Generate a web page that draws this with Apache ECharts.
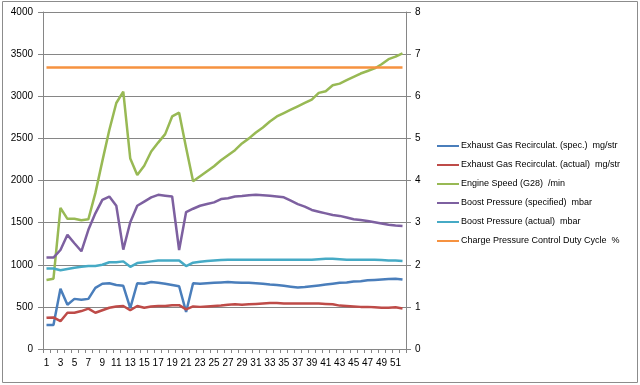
<!DOCTYPE html>
<html><head><meta charset="utf-8">
<script src="https://cdn.jsdelivr.net/npm/echarts@6/dist/echarts.min.js"></script>
<style>html,body{margin:0;padding:0;background:#fff}#c{width:640px;height:385px}</style>
</head><body><div id="c"></div>
<script>
var categories = [];
for (var i = 1; i <= 52; i++) categories.push(String(i));
var seriesNames = ["Exhaust Gas Recirculat. (spec.)  mg/str","Exhaust Gas Recirculat. (actual)  mg/str","Engine Speed (G28)  /min","Boost Pressure (specified)  mbar","Boost Pressure (actual)  mbar","Charge Pressure Control Duty Cycle  %"];
var egrSpec = [285,285,715,525,595,585,595,725,775,780,760,750,485,780,775,795,785,775,760,745,440,780,775,780,785,790,795,790,785,785,780,775,765,760,750,740,730,735,745,755,765,775,785,790,800,805,815,820,825,830,835,825];
var egrActual = [370,375,330,430,430,450,480,430,460,490,505,510,460,510,490,505,510,510,520,520,470,505,500,505,510,515,525,530,525,530,535,540,545,545,540,540,540,540,540,540,535,530,515,510,505,500,500,495,490,490,495,480];
var engineSpeed = [820,835,1675,1545,1545,1528,1540,1850,2230,2600,2920,3055,2260,2065,2175,2345,2450,2550,2760,2805,2390,1990,2050,2110,2170,2240,2300,2360,2440,2500,2570,2630,2700,2760,2800,2840,2880,2920,2960,3040,3060,3130,3150,3190,3230,3270,3300,3330,3380,3440,3470,3510];
var boostSpec = [1085,1085,1175,1355,1255,1160,1415,1610,1770,1810,1700,1180,1505,1700,1750,1800,1830,1820,1810,1175,1625,1665,1700,1720,1740,1780,1790,1810,1815,1825,1830,1825,1820,1810,1800,1760,1720,1690,1650,1630,1610,1590,1580,1560,1540,1530,1520,1505,1490,1475,1465,1460];
var boostActual = [955,955,935,950,965,975,985,985,1000,1030,1030,1040,975,1020,1030,1040,1050,1050,1050,1050,985,1025,1035,1045,1050,1055,1060,1060,1060,1060,1060,1060,1060,1060,1060,1060,1060,1060,1060,1065,1070,1070,1065,1060,1060,1060,1060,1060,1055,1050,1050,1045];
var dutyCycle = [];
for (var j = 0; j < 52; j++) dutyCycle.push(6.68);
var colors = ["#4A7EBB","#BE4B48","#98B954","#7D60A0","#46AAC5","#F69240"];

var font = "Liberation Sans";
var chart = echarts.init(document.getElementById('c'), null, {renderer:'canvas'});
var dataList = [egrSpec, egrActual, engineSpeed, boostSpec, boostActual, dutyCycle];
var series = dataList.map(function(d, k){
  return {name: seriesNames[k], type:'line', data:d, yAxisIndex: k===5?1:0,
    symbol:'none', smooth:false, lineStyle:{width:2.5, color:colors[k]}, itemStyle:{color:colors[k]}, z: 2+k, animation:false};
});
chart.setOption({
  animation:false,
  graphic:[{type:'rect', shape:{x:2.5,y:1.5,width:635,height:381}, style:{fill:null, stroke:'#8c8c8c', lineWidth:1}, silent:true}],
  grid:{left:43, right:234, top:12, bottom:36, containLabel:false},
  legend:{orient:'vertical', left:437, top:139, padding:0, itemWidth:22, itemHeight:2, itemGap:5, icon:'rect',
    textStyle:{fontFamily:font, fontSize:9, color:'#000', lineHeight:14, padding:[0,0,0,-3]},
    data:seriesNames},
  xAxis:{type:'category', data:categories, boundaryGap:true,
    axisLine:{lineStyle:{color:'#868686', width:1}},
    axisTick:{show:true, interval:0, alignWithLabel:false, length:4, lineStyle:{color:'#868686'}},
    axisLabel:{interval:1, fontFamily:font, fontSize:10, color:'#000', margin:9}},
  yAxis:[
    {type:'value', min:0, max:4000, interval:500, position:'left',
     axisLine:{show:true, lineStyle:{color:'#868686'}},
     axisTick:{show:true, length:5, lineStyle:{color:'#868686'}},
     axisLabel:{fontFamily:font, fontSize:10, color:'#000', margin:10, formatter:function(v){return String(v);}},
     splitLine:{show:true, lineStyle:{color:'#868686', width:1}}},
    {type:'value', min:0, max:8, interval:1, position:'right',
     axisLine:{show:true, lineStyle:{color:'#868686'}},
     axisTick:{show:true, length:5, lineStyle:{color:'#868686'}},
     axisLabel:{fontFamily:font, fontSize:10, color:'#000', margin:9},
     splitLine:{show:false}}
  ],
  series: series
});
</script></body></html>
